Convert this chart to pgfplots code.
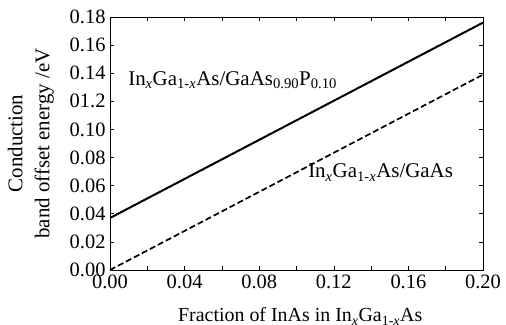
\documentclass[border=0pt]{standalone}
\usepackage{fontspec}
\setmainfont{Liberation Serif}
\usepackage{pgfplots}
\pgfplotsset{compat=1.18}
\begin{document}
\begin{tikzpicture}
\begin{axis}[
  name=ax,
  scale only axis,
  width=373bp, height=253bp,
  xmin=0, xmax=0.2, ymin=0, ymax=0.18,
  xtick={0,0.04,0.08,0.12,0.16,0.20},
  xticklabels={0.00,0.04,0.08,0.12,0.16,0.20},
  minor xtick={0.02,0.06,0.10,0.14,0.18},
  ytick={0,0.02,0.04,0.06,0.08,0.10,0.12,0.14,0.16,0.18},
  yticklabels={0.00,0.02,0.04,0.06,0.08,0.10,01.2,0.14,0.16,0.18},
  tick align=inside,
  major tick length=4bp, minor tick length=4bp,
  tick style={black, line width=0.6pt},
  axis line style={line width=0.8pt},
  ticklabel style={font=\fontsize{20.5}{24}\selectfont},
  xticklabel style={yshift=-1bp},
  yticklabel style={xshift=-1bp},
  xlabel={Fraction of InAs in In\textsubscript{\textit{x}}Ga\textsubscript{1-\textit{x}}As},
  xlabel style={at={(axis description cs:0.51,-0.2055)}, anchor=base, font=\fontsize{20}{24}\selectfont},
  ylabel={Conduction\\band offset energy /eV},
  ylabel style={at={(axis description cs:-0.212,0.5)}, anchor=center, align=center, font=\fontsize{21}{27}\selectfont},
]
\addplot[black, line width=2bp] coordinates {(0,0.037) (0.2,0.176)};
\addplot[black, line width=1.7bp, dash pattern=on 6bp off 3bp] coordinates {(0,0.0) (0.2,0.139)};
\node[anchor=base west, inner sep=0pt, font=\fontsize{21}{24}\selectfont] at (axis cs:0.0097,0.1316)
  {In\textsubscript{\textit{x}}Ga\textsubscript{1-\textit{x}}As/GaAs\textsubscript{0.90}P\textsubscript{0.10}};
\node[anchor=base west, inner sep=0pt, font=\fontsize{21}{24}\selectfont] at (axis cs:0.1062,0.0655)
  {In\textsubscript{\textit{x}}Ga\textsubscript{1-\textit{x}}As/GaAs};
\end{axis}
\pgfresetboundingbox
\path ([shift={(-110bp,-55bp)}]ax.south west) rectangle ([shift={(23bp,17bp)}]ax.north east);
\end{tikzpicture}
\end{document}
